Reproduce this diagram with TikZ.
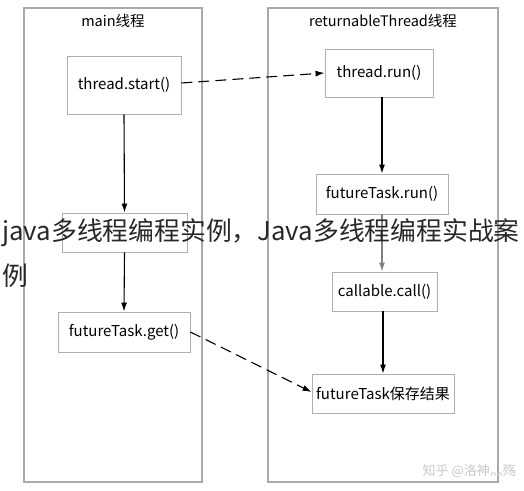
\documentclass[tikz,border=0pt]{standalone}
\usepackage{fontspec}
\setmainfont{Noto Sans CJK SC}
\usetikzlibrary{calc,arrows.meta}
\definecolor{lanegray}{RGB}{170,170,170}
\definecolor{boxgray}{RGB}{175,175,175}
\definecolor{marktext}{RGB}{40,40,40}
\tikzset{
  lane/.style={
    draw=lanegray,
    line width=1.1pt
  },
  lanetitle/.style={
    font=\fontsize{14.5}{17}\selectfont,
    anchor=center
  },
  callbox/.style={
    draw=boxgray,
    line width=0.9pt,
    fill=white,
    inner sep=0pt,
    font=\fontsize{15}{18}\selectfont
  },
  flow/.style={
    -{Latex[length=9pt,width=6pt]},
    line width=1.1pt
  },
  message/.style={
    -{Latex[length=9pt,width=6pt]},
    line width=1.1pt,
    dash pattern=on 11pt off 6pt
  },
  every picture/.style={
    x=1pt,
    y=-1pt
  }
}

\begin{document}
\begin{tikzpicture}
    \useasboundingbox (0,0) rectangle (524,490);
    % the two threads
    \draw[lane] (24,8) rectangle (202,482);
    \draw[lane] (268,8) rectangle (498,482);
    \node[lanetitle] (mainT) at (113,21) {main线程};
    \node[lanetitle] (retT) at (383,21) {returnableThread线程};
    % main thread
    \node[callbox, minimum width=114pt, minimum height=58pt] (start) at (124,85) {thread.start()};
    \node[callbox, minimum width=125pt, minimum height=39pt] (other) at (124.5,232.5) {};
    \node[callbox, minimum width=132pt, minimum height=40pt] (get) at (124,332) {futureTask.get()};
    % returnableThread
    \node[callbox, minimum width=108pt, minimum height=48pt] (run) at (379,73) {thread.run()};
    \node[callbox, minimum width=132pt, minimum height=40pt] (ftrun) at (382,194) {futureTask.run()};
    \node[callbox, minimum width=105pt, minimum height=39pt] (call) at (384.5,291.5) {callable.call()};
    \node[callbox, minimum width=142pt, minimum height=39pt] (save) at (383,393.5) {futureTask保存结果};
    % control flow
    \draw[flow] (start.south) -- (other.north);
    \draw[flow] (other.south) -- (get.north);
    \draw[flow] (run.south -| ftrun.north) -- (ftrun.north);
    \draw[flow, gray] (ftrun.south) -- (ftrun.south |- call.north);
    \draw[flow] (call.south -| save.north) -- (save.north);
    % between the threads
    \draw[message] ($(start.east)+(0,-2)$) -- (run.west);
    \draw[message] (get.east) -- ($(save.west)+(0,-1.5)$);
    % overlay
    \node[anchor=west, text=marktext, font=\fontsize{25.8}{30}\selectfont, inner sep=0pt] (cap) at (2,233) {java多线程编程实例，Java多线程编程实战案};
    \node[anchor=west, text=marktext, font=\fontsize{25.8}{30}\selectfont, inner sep=0pt] (cap2) at (2,276) {例};
    \node[anchor=east, text=black!22, font=\fontsize{13}{15}\selectfont, inner sep=0pt] (zhihu) at (516,471) {知乎 @洛神灬殇};
\end{tikzpicture}
\end{document}
